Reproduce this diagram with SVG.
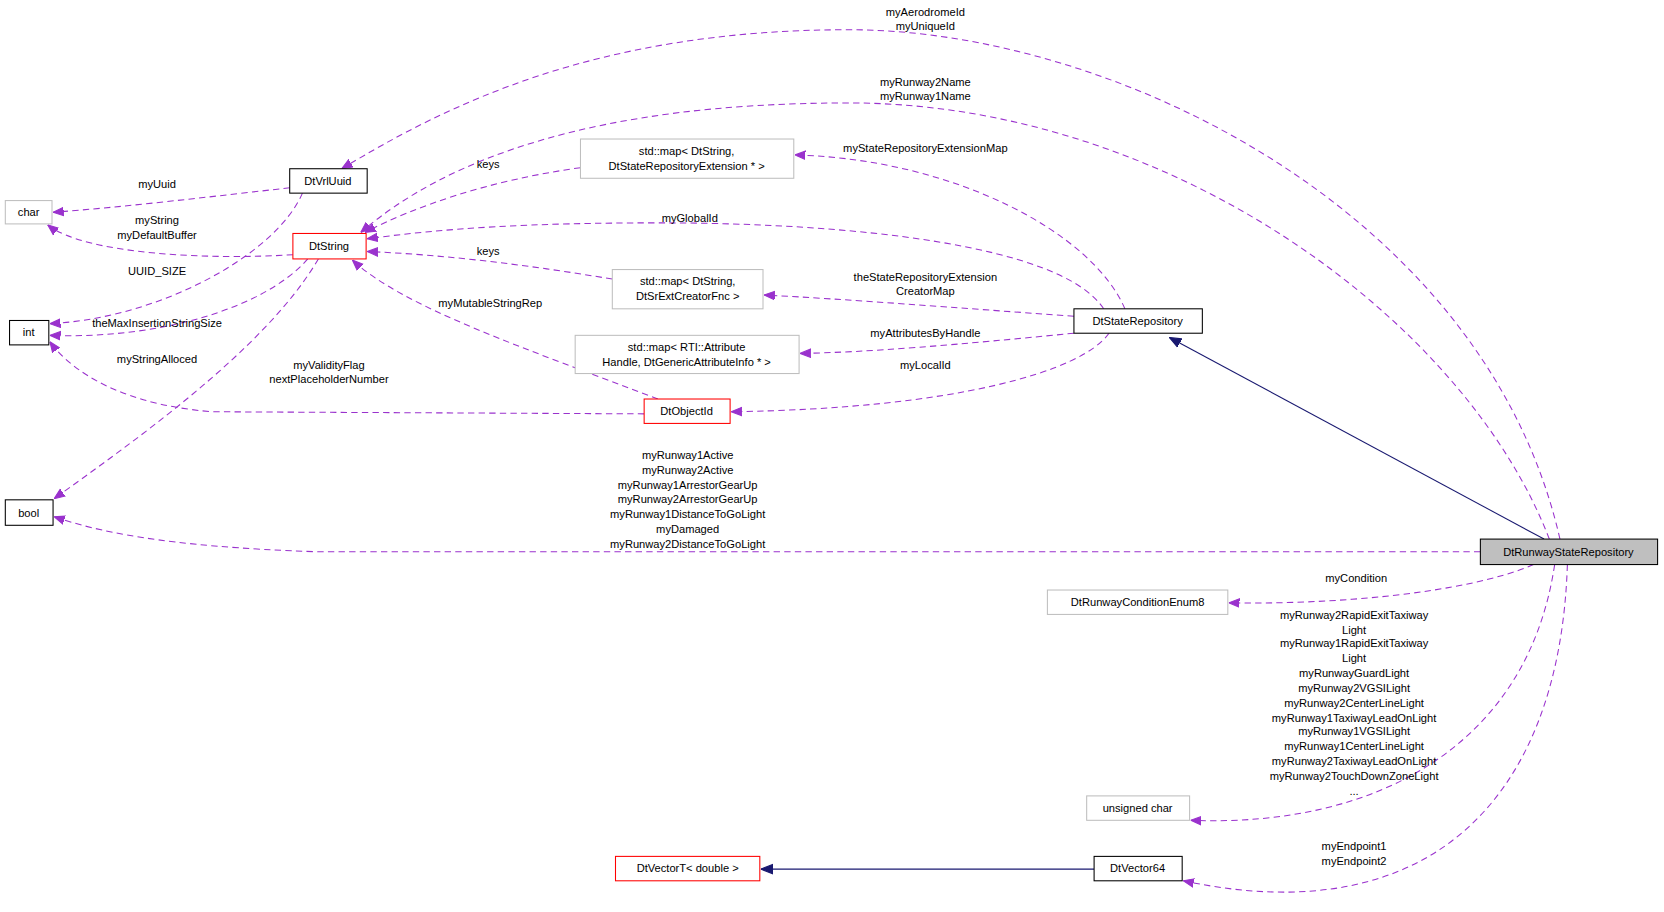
<svg xmlns="http://www.w3.org/2000/svg" width="1664" height="912" viewBox="0 0 1664 912">
<style>
text{font-family:"Liberation Sans",Arial,sans-serif;font-size:10.5px;fill:#000}
.n rect{fill:#fff;stroke:#000;stroke-width:1}
.g rect{stroke:#bfbfbf}
.r rect{stroke:#ff0000}
.e path{fill:none;stroke:#9a32cd;stroke-dasharray:6,4;stroke-width:1}
.i path{fill:none;stroke:#191970;stroke-width:1}
.c{text-anchor:middle}
</style>
<defs>
<marker id="p" viewBox="0 0 10 10" refX="10" refY="5" markerWidth="10" markerHeight="10" orient="auto" markerUnits="userSpaceOnUse"><path d="M0,1 L10,5 L0,9z" fill="#9a32cd" stroke="#9a32cd"/></marker>
<marker id="b" viewBox="0 0 10 10" refX="10" refY="5" markerWidth="11" markerHeight="11" orient="auto" markerUnits="userSpaceOnUse"><path d="M0,1 L10,5 L0,9z" fill="#191970" stroke="#191970"/></marker>
</defs>
<rect width="1664" height="912" fill="#fff"/>
<g transform="scale(1.0612)">
<g id="connectors">
<g class="i">
<path d="M1455,508 L1102,318" marker-end="url(#b)"/>
<path d="M1031,819 L717,819" marker-end="url(#b)"/>
</g>
<g class="e">
<path d="M1470,508 C1400,200 1050,28 800,28 C560,28 420,100 322,159" marker-end="url(#p)"/>
<path d="M1460,508 C1380,300 1100,97 800,97 C560,97 420,150 340,219" marker-end="url(#p)"/>
<path d="M1060,291 C1030,220 900,150 749,146" marker-end="url(#p)"/>
<path d="M1040,291 C1000,230 800,210 620,210 C500,210 420,215 346,225" marker-end="url(#p)"/>
<path d="M547,158 C460,170 390,195 344,219" marker-end="url(#p)"/>
<path d="M577,263 C500,250 420,240 346,237" marker-end="url(#p)"/>
<path d="M1012,298 C900,290 800,282 720,278" marker-end="url(#p)"/>
<path d="M1012,314 C900,325 820,332 754,333" marker-end="url(#p)"/>
<path d="M1045,314 C1020,350 900,385 689,388" marker-end="url(#p)"/>
<path d="M273,177 C200,185 120,195 50,200" marker-end="url(#p)"/>
<path d="M276,240 C200,245 80,240 45,212" marker-end="url(#p)"/>
<path d="M285,182 C260,240 150,300 47,305" marker-end="url(#p)"/>
<path d="M290,244 C250,290 150,320 47,316" marker-end="url(#p)"/>
<path d="M300,244 C250,330 120,420 51,470" marker-end="url(#p)"/>
<path d="M607,390 L200,388 C100,380 60,340 47,322" marker-end="url(#p)"/>
<path d="M620,376 C500,330 380,290 332,245" marker-end="url(#p)"/>
<path d="M1395,520 L300,520 C150,515 90,500 51,487" marker-end="url(#p)"/>
<path d="M1445,532 C1380,560 1250,570 1158,568" marker-end="url(#p)"/>
<path d="M1465,532 C1440,700 1300,780 1122,773" marker-end="url(#p)"/>
<path d="M1477,532 C1470,750 1350,880 1115,830" marker-end="url(#p)"/>
</g>
<g class="c">
<text x="872" y="15">myAerodromeId</text><text x="872" y="28">myUniqueId</text>
<text x="872" y="81">myRunway2Name</text><text x="872" y="94">myRunway1Name</text>
<text x="872" y="143">myStateRepositoryExtensionMap</text>
<text x="650" y="209">myGlobalId</text>
<text x="460" y="158">keys</text>
<text x="460" y="240">keys</text>
<text x="872" y="265">theStateRepositoryExtension</text><text x="872" y="278">CreatorMap</text>
<text x="872" y="318">myAttributesByHandle</text>
<text x="872" y="348">myLocalId</text>
<text x="148" y="177">myUuid</text>
<text x="148" y="211">myString</text><text x="148" y="225">myDefaultBuffer</text>
<text x="148" y="259">UUID_SIZE</text>
<text x="148" y="308">theMaxInsertionStringSize</text>
<text x="148" y="342">myStringAlloced</text>
<text x="310" y="348">myValidityFlag</text><text x="310" y="361">nextPlaceholderNumber</text>
<text x="462" y="289">myMutableStringRep</text>
<text x="648" y="433">myRunway1Active</text><text x="648" y="447">myRunway2Active</text><text x="648" y="461">myRunway1ArrestorGearUp</text><text x="648" y="474">myRunway2ArrestorGearUp</text><text x="648" y="488">myRunway1DistanceToGoLight</text><text x="648" y="502">myDamaged</text><text x="648" y="516">myRunway2DistanceToGoLight</text>
<text x="1278" y="548">myCondition</text>
<text x="1276" y="583">myRunway2RapidExitTaxiway</text><text x="1276" y="597">Light</text><text x="1276" y="610">myRunway1RapidExitTaxiway</text><text x="1276" y="624">Light</text><text x="1276" y="638">myRunwayGuardLight</text><text x="1276" y="652">myRunway2VGSILight</text><text x="1276" y="666">myRunway2CenterLineLight</text><text x="1276" y="680">myRunway1TaxiwayLeadOnLight</text><text x="1276" y="693">myRunway1VGSILight</text><text x="1276" y="707">myRunway1CenterLineLight</text><text x="1276" y="721">myRunway2TaxiwayLeadOnLight</text><text x="1276" y="735">myRunway2TouchDownZoneLight</text><text x="1276" y="749">...</text>
<text x="1276" y="801">myEndpoint1</text><text x="1276" y="815">myEndpoint2</text>
</g>
</g>
<g id="DtRunwayStateRepository" class="n"><rect x="1395" y="508" width="167" height="24" style="fill:#bfbfbf"/><text class="c" x="1478" y="524">DtRunwayStateRepository</text></g>
<g id="DtStateRepository" class="n"><rect x="1012" y="291" width="121" height="23"/><text class="c" x="1072" y="306">DtStateRepository</text></g>
<g id="DtVrlUuid" class="n"><rect x="273" y="159" width="73" height="23"/><text class="c" x="309" y="174">DtVrlUuid</text></g>
<g id="char" class="n g"><rect x="5" y="189" width="44" height="22"/><text class="c" x="27" y="204">char</text></g>
<g id="DtString" class="n r"><rect x="276" y="220" width="69" height="24"/><text class="c" x="310" y="236">DtString</text></g>
<g id="int" class="n"><rect x="9" y="302" width="37" height="23"/><text class="c" x="27" y="317">int</text></g>
<g id="bool" class="n"><rect x="5" y="471" width="45" height="24"/><text class="c" x="27" y="487">bool</text></g>
<g id="mapExt" class="n g"><rect x="547" y="131" width="201" height="37"/><text class="c" x="647" y="146">std::map&lt; DtString,</text><text class="c" x="647" y="160">DtStateRepositoryExtension * &gt;</text></g>
<g id="mapSrExt" class="n g"><rect x="577" y="254" width="142" height="37"/><text class="c" x="648" y="269">std::map&lt; DtString,</text><text class="c" x="648" y="283">DtSrExtCreatorFnc &gt;</text></g>
<g id="mapRTI" class="n g"><rect x="542" y="316" width="211" height="36"/><text class="c" x="647" y="331">std::map&lt; RTI::Attribute</text><text class="c" x="647" y="345">Handle, DtGenericAttributeInfo * &gt;</text></g>
<g id="DtObjectId" class="n r"><rect x="607" y="376" width="81" height="23"/><text class="c" x="647" y="391">DtObjectId</text></g>
<g id="DtRunwayConditionEnum8" class="n g"><rect x="987" y="556" width="170" height="23"/><text class="c" x="1072" y="571">DtRunwayConditionEnum8</text></g>
<g id="unsignedchar" class="n g"><rect x="1024" y="750" width="97" height="23"/><text class="c" x="1072" y="765">unsigned char</text></g>
<g id="DtVector64" class="n"><rect x="1031" y="807" width="83" height="23"/><text class="c" x="1072" y="822">DtVector64</text></g>
<g id="DtVectorT" class="n r"><rect x="580" y="807" width="136" height="23"/><text class="c" x="648" y="822">DtVectorT&lt; double &gt;</text></g>
</g>
</svg>
